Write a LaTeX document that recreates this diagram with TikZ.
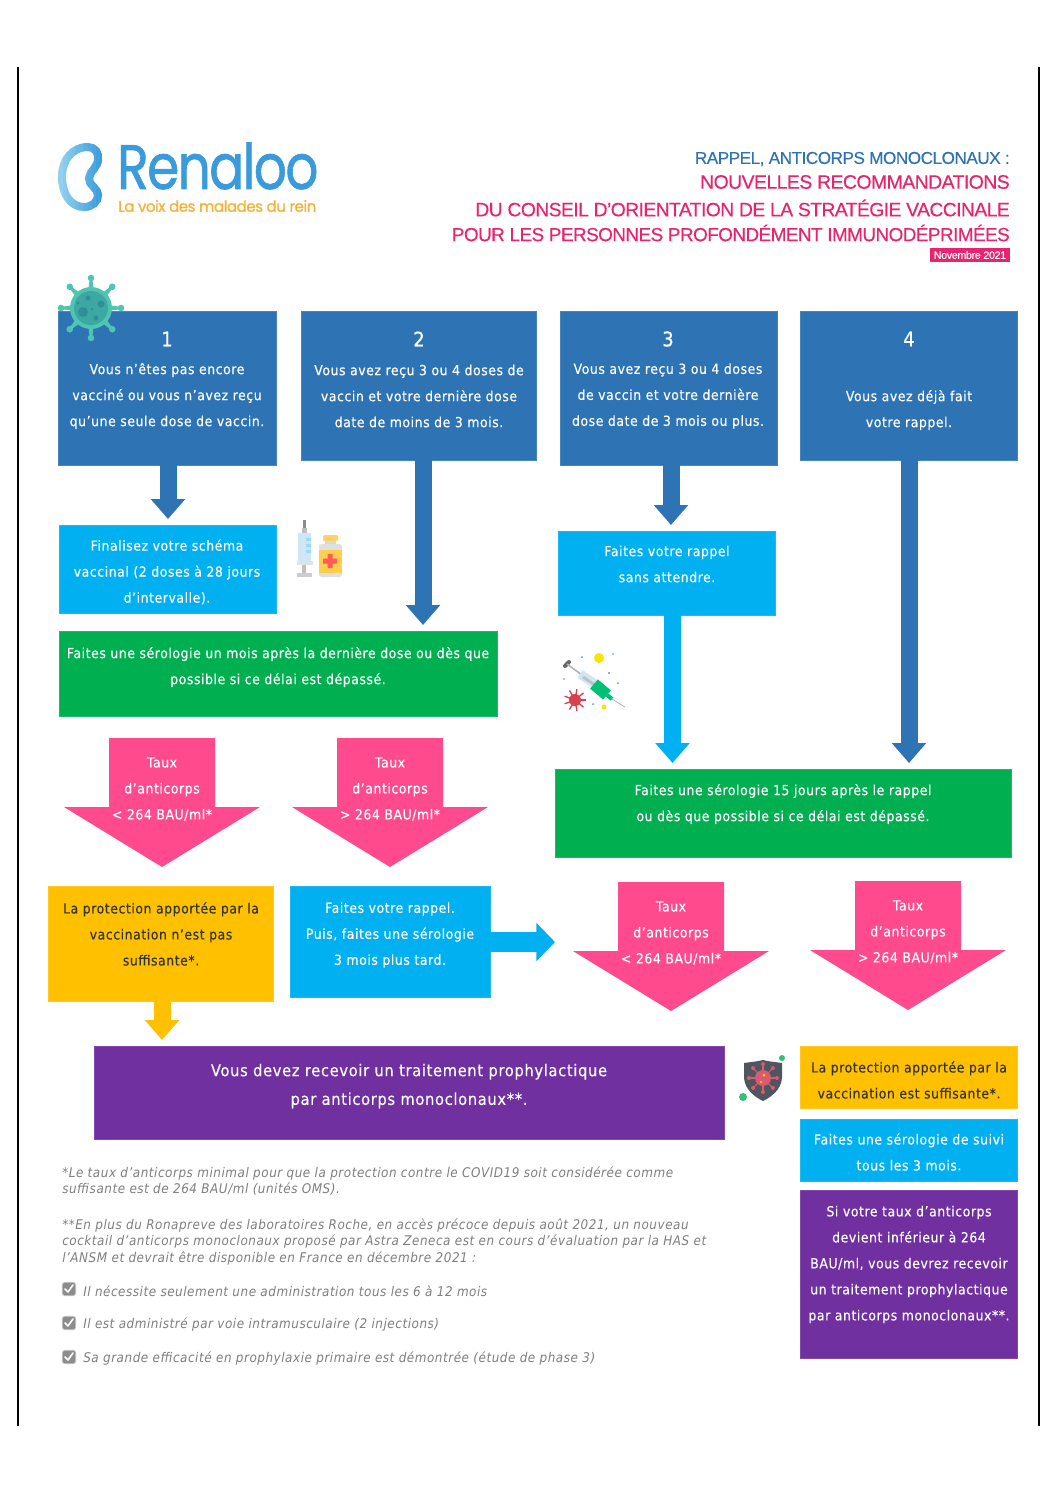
\documentclass[tikz,border=0pt]{standalone}
\usepackage{fontspec}
\setmainfont{DejaVu Sans}[FakeStretch=0.90,LetterSpace=4,FakeBold=0.25]
\newfontfamily\footfont{DejaVu Sans}[FakeStretch=0.90,LetterSpace=4]
\newfontfamily\titlefont{Liberation Sans}[LetterSpace=-3,FakeBold=0.3]
\newfontfamily\logofont{Poppins}[LetterSpace=-3,FakeBold=1.2]
\newfontfamily\slogfont{Poppins}[LetterSpace=-3,FakeBold=0.9]
\usetikzlibrary{arrows.meta,calc}
\definecolor{dblue}{HTML}{2E74B5}
\definecolor{cyanb}{HTML}{00B0F0}
\definecolor{greenb}{HTML}{00B050}
\definecolor{pinkb}{HTML}{FF4B8D}
\definecolor{yellowb}{HTML}{FFC000}
\definecolor{purpleb}{HTML}{7030A0}
\definecolor{titlepink}{HTML}{E8246E}
\definecolor{logoblue}{HTML}{3A9BDC}
\definecolor{logolight}{HTML}{9AD6F2}
\definecolor{logoorange}{HTML}{F5B335}
\definecolor{footgrey}{HTML}{7F7F7F}
\definecolor{teal1}{HTML}{4DC5B0}
\definecolor{teal2}{HTML}{2E8F98}
\definecolor{shieldc}{HTML}{4F5660}
\definecolor{shieldp}{HTML}{DB5A70}
\definecolor{virusred}{HTML}{D6404F}
\definecolor{barrel}{HTML}{CFE6F5}
\tikzset{
  boxs/.style={inner sep=0pt,outer sep=0pt,line width=0.5pt},
  txt/.style={text=white,align=center,font=\fontsize{10.4}{19.5}\selectfont,inner sep=0pt},
  dtxt/.style={txt,text=black!80},
  numtxt/.style={text=white,font=\fontsize{15}{18}\selectfont\addfontfeature{FakeBold=0.8},inner sep=0pt},
  foot/.style={text=footgrey,anchor=west,align=left,inner sep=0pt,font=\footfont\fontsize{10}{12.2}\selectfont\itshape},
  ttl/.style={anchor=east,inner sep=0pt},
  vblock/.style={line width=12.75pt,-{Triangle[width=25pt,length=15pt]},shorten >=4.5pt},
}
% name x1 y1 x2 y2 colour
\newcommand{\bx}[6]{%
  \pgfmathsetmacro{\bxw}{(#4-#2)*0.75}\pgfmathsetmacro{\bxh}{(#5-#3)*0.75}%
  \node[boxs,fill=#6,draw=#6!88,minimum width=\bxw pt,minimum height=\bxh pt] (#1) at ({(#2+#4)/2},{(#3+#5)/2}) {};}
% name cx top text
\newcommand{\parrow}[4]{%
  \fill[pinkb] ({#2-53},#3) -- ({#2+53},#3) -- ({#2+53},{#3+69}) -- ({#2+98},{#3+69}) -- (#2,{#3+129}) -- ({#2-98},{#3+69}) -- ({#2-53},{#3+69}) -- cycle;
  \node[txt] (#1) at (#2,{#3+51}) {Taux\\d’anticorps\\#4};}
\newcommand{\chk}[2]{%
  \node[inner sep=0pt,minimum size=10pt,rounded corners=2pt,fill=black!45,draw=black!25,line width=.6pt] (#1) at (#2) {};
  \draw[white,line width=1.2pt,line cap=round,line join=round] ($(#1)+(-4,0)$) -- ($(#1)+(-1,3)$) -- ($(#1)+(4,-4)$);}
\begin{document}
\begin{tikzpicture}[x=0.75pt,y=-0.75pt]
\useasboundingbox (0,0) rectangle (1058,1497);
\fill[white] (0,0) rectangle (1058,1497);
% page lines
\draw[black,line width=.9pt] (18,67) -- (18,1426);
\draw[black,line width=.9pt] (1039,67) -- (1039,1426);
% logo kidney with gradient stroke
\foreach \i in {0,...,11}{
  \pgfmathsetmacro{\mx}{100*\i/11}
  \colorlet{kc}{logoblue!\mx!logolight}
  \begin{scope}
    \clip ({54+\i*4.2},135) rectangle ({54+(\i+1)*4.3},220);
    \draw[kc,line width=6pt] (88,147) .. controls (95,147) and (99,153) .. (98,160)
      .. controls (97,168) and (90,171) .. (89,178)
      .. controls (88,185) and (98,188) .. (98,195)
      .. controls (98,202) and (92,207) .. (84,207)
      .. controls (70,207) and (62,193) .. (62,177)
      .. controls (62,160) and (72,147) .. (88,147) -- cycle;
  \end{scope}
}
\node[inner sep=0pt,anchor=west,text=logoblue] (logo) at (117,166) {\scalebox{0.825}[1]{\logofont\fontsize{47}{47}\selectfont Renaloo}};
\node[inner sep=0pt,anchor=west,text=logoorange] (slogan) at (118,206) {\scalebox{0.97}[1]{\slogfont\fontsize{11.6}{12}\selectfont La voix des malades du rein}};
% title
\node[ttl,text=dblue] (t1) at (1010,159) {\titlefont\fontsize{12.9}{14}\selectfont RAPPEL, ANTICORPS MONOCLONAUX :};
\node[ttl,text=titlepink] (t2) at (1010,182) {\titlefont\fontsize{14.6}{15}\selectfont NOUVELLES RECOMMANDATIONS};
\node[ttl,text=titlepink] (t3) at (1010,208) {\titlefont\fontsize{14.5}{15}\selectfont DU CONSEIL D’ORIENTATION DE LA STRATÉGIE VACCINALE};
\node[ttl,text=titlepink] (t4) at (1010,233) {\titlefont\fontsize{14.2}{15}\selectfont POUR LES PERSONNES PROFONDÉMENT IMMUNODÉPRIMÉES};
\node[fill=titlepink,text=white,inner sep=0pt,minimum width=60pt,minimum height=10.5pt,font=\titlefont\fontsize{8}{8}\selectfont] (date) at (970,255) {Novembre 2021};
% boxes
\bx{b1}{58}{311}{276}{465}{dblue}
\bx{b2}{301}{311}{536}{460}{dblue}
\bx{b3}{560}{311}{777}{465}{dblue}
\bx{b4}{800}{311}{1017}{460}{dblue}
\bx{c1}{59}{525}{276}{613}{cyanb}
\bx{g1}{59}{631}{497}{716}{greenb}
\bx{c3}{558}{531}{775}{615}{cyanb}
\bx{g2}{555}{769}{1011}{857}{greenb}
\bx{y1}{48}{886}{273}{1001}{yellowb}
\bx{c2}{290}{886}{490}{997}{cyanb}
\bx{p1}{94}{1046}{724}{1139}{purpleb}
\bx{y2}{800}{1046}{1017}{1108}{yellowb}
\bx{c4}{800}{1119}{1017}{1181}{cyanb}
\bx{p2}{800}{1190}{1017}{1358}{purpleb}
% block arrows
\coordinate (s1) at ($(b1.south)+(1,0)$);
\coordinate (s2) at ($(b2.south)+(4.5,0)$);
\coordinate (s3) at ($(b3.south)+(2.5,0)$);
\coordinate (s4) at ($(c3.south)+(6,0)$);
\coordinate (s5) at ($(b4.south)+(0.5,0)$);
\coordinate (s6) at ($(c2.east)+(0,0.5)$);
\coordinate (s7) at ($(y1.south)+(1.5,0)$);
\draw[vblock,dblue] (s1) -- (s1 |- c1.north);
\draw[vblock,dblue] (s2) -- (s2 |- g1.north);
\draw[vblock,dblue] (s3) -- (s3 |- c3.north);
\draw[vblock,cyanb] (s4) -- (s4 |- g2.north);
\draw[vblock,dblue] (s5) -- (s5 |- g2.north);
\draw[line width=15pt,-{Triangle[width=28pt,length=14pt]},cyanb] (s6) -- (s6 -| g2.west);
\draw[vblock,yellowb] (s7) -- (s7 |- p1.north);
% pink arrows
\parrow{k1}{162}{738}{< 264 BAU/ml*}
\parrow{k2}{390}{738}{> 264 BAU/ml*}
\parrow{k3}{671}{882}{< 264 BAU/ml*}
\parrow{k4}{908}{881}{> 264 BAU/ml*}
% texts
\node[numtxt] (n1) at (167,339) {1};
\node[numtxt] (n2) at (419,339) {2};
\node[numtxt] (n3) at (668,339) {3};
\node[numtxt] (n4) at (909,339) {4};
\node[txt] (tb1) at (167,396) {Vous n’êtes pas encore\\vacciné ou vous n’avez reçu\\qu’une seule dose de vaccin.};
\node[txt] (tb2) at (419,396) {Vous avez reçu 3 ou 4 doses de\\vaccin et votre dernière dose\\date de moins de 3 mois.};
\node[txt] (tb3) at (668,396) {Vous avez reçu 3 ou 4 doses\\de vaccin et votre dernière\\dose date de 3 mois ou plus.};
\node[txt] (tb4) at (909,410) {Vous avez déjà fait\\votre rappel.};
\node[txt] (tc1) at (167,572) {Finalisez votre schéma\\vaccinal (2 doses à 28 jours\\d’intervalle).};
\node[txt] (tg1) at (278,667) {Faites une sérologie un mois après la dernière dose ou dès que\\possible si ce délai est dépassé.};
\node[txt] (tc3) at (667,564) {Faites votre rappel\\sans attendre.};
\node[txt] (tg2) at (783,804) {Faites une sérologie 15 jours après le rappel\\ou dès que possible si ce délai est dépassé.};
\node[dtxt] (ty1) at (161,934) {La protection apportée par la\\vaccination n’est pas\\suffisante*.};
\node[txt] (tc2) at (390,935) {Faites votre rappel.\\Puis, faites une sérologie\\3 mois plus tard.};
\node[txt,font=\fontsize{12.25}{21.5}\selectfont] (tp1) at (409,1086) {Vous devez recevoir un traitement prophylactique\\par anticorps monoclonaux**.};
\node[dtxt] (ty2) at (909,1080) {La protection apportée par la\\vaccination est suffisante*.};
\node[txt] (tc4) at (909,1152) {Faites une sérologie de suivi\\tous les 3 mois.};
\node[txt] (tp2) at (909,1264.5) {Si votre taux d’anticorps\\devient inférieur à 264\\BAU/ml, vous devrez recevoir\\un traitement prophylactique\\par anticorps monoclonaux**.};
% footnotes
\node[foot] (f1) at (62,1181) {*Le taux d’anticorps minimal pour que la protection contre le COVID19 soit considérée comme\\suffisante est de 264 BAU/ml (unités OMS).};
\node[foot] (f2) at (62,1242) {**En plus du Ronapreve des laboratoires Roche, en accès précoce depuis août 2021, un nouveau\\cocktail d’anticorps monoclonaux proposé par Astra Zeneca est en cours d’évaluation par la HAS et\\l’ANSM et devrait être disponible en France en décembre 2021 :};
\chk{ck1}{69,1289}
\chk{ck2}{69,1323}
\chk{ck3}{69,1357}
\node[foot] (f3) at (83,1291) {Il nécessite seulement une administration tous les 6 à 12 mois};
\node[foot] (f4) at (83,1325) {Il est administré par voie intramusculaire (2 injections)};
\node[foot] (f5) at (83,1359) {Sa grande efficacité en prophylaxie primaire est démontrée (étude de phase 3)};
% virus icon
\foreach \a in {0,45,...,315}{
  \fill[teal1] ($(91,308)+({\a+90}:5)$) -- ($(91,308)+({\a}:30)+({\a+90}:1.2)$) -- ($(91,308)+({\a}:30)+({\a-90}:1.2)$) -- ($(91,308)+({\a-90}:5)$) -- cycle;
  \fill[teal1] ($(91,308)+({\a}:30)$) circle (3.3);
}
\fill[teal1] (91,308) circle (21);
\fill[teal2!55!teal1] (91,308) circle (17);
\fill[teal2] (83,312) circle (5) (101,304) circle (3.5) (88,298) circle (2.5) (96,318) circle (2.5) (78,303) circle (1.5) (92,309) circle (1.5);
% syringe + vial
\fill[black!45] (303,520) rectangle (305.5,530);
\fill[black!25] (302,528) rectangle (306.5,533);
\fill[barrel] (298,533) rectangle (311,563);
\fill[blue!35!cyan!40] (306,538) rectangle (311,541) (306,544) rectangle (311,547) (306,550) rectangle (311,553);
\fill[barrel!70!black!30] (297,561) rectangle (313,565);
\fill[black!25] (302,565) rectangle (306,573);
\fill[black!20] (297,573) rectangle (312,577);
\fill[orange!60!yellow!60,rounded corners=1pt] (323,535) rectangle (338,541);
\fill[black!15] (325,541) rectangle (336,545);
\fill[black!12,rounded corners=2pt] (319,544) rectangle (342,577);
\fill[orange!55!yellow!70] (319,550) rectangle (342,573);
\fill[red!65!white] (327.5,554) rectangle (332.5,568) (323,558.5) rectangle (337,563.5);
% injection icon
\draw[black!60,line width=3pt,line cap=round] (565,666) -- (569,662);
\draw[black!30,line width=1.2pt] (567,664) -- (582,675);
\draw[barrel,line width=7pt] (580,674) -- (595,684);
\draw[black!25,line width=2pt] (583,677) -- (595,685);
\draw[greenb!80!cyan,line width=9pt] (594,684) -- (607,695);
\draw[greenb!80!cyan,line width=3pt] (607,695) -- (612,699);
\draw[black!30,line width=.6pt] (612,699) -- (625,707);
\foreach \a in {0,40,...,320}{
  \draw[virusred,line width=1pt] (575,700) -- ($(575,700)+({\a}:11)$);
}
\fill[virusred] (575,700) circle (6);
\fill[yellow!85!orange] (599,658) circle (5) (604,707) circle (2.5);
\fill[cyan!60!blue!70] (582,657) circle (1) (613,654) circle (.9) (609,673) circle (1.2) (618,683) circle (1) (564,679) circle (.9) (593,704) circle (1);
% shield icon
\fill[shieldc] (763,1060) .. controls (755,1062) and (750,1062) .. (744,1063) -- (744,1078) .. controls (745,1090) and (755,1097) .. (763,1101) .. controls (771,1097) and (781,1090) .. (782,1078) -- (782,1063) .. controls (776,1062) and (771,1062) .. (763,1060) -- cycle;
\fill[shieldp] (763,1078) circle (8);
\foreach \a in {0,45,...,315}{
  \draw[shieldp,line width=.8pt] (763,1078) -- ($(763,1078)+({\a}:14)$);
  \fill[shieldp] ($(763,1078)+({\a}:14)$) circle (2);
}
\fill[yellow!80!orange] (764,1075) circle (1.5) (761,1082) circle (1.2);
\fill[greenb!80!white] (782,1058) circle (3) (743,1097) circle (4);
\end{tikzpicture}
\end{document}
